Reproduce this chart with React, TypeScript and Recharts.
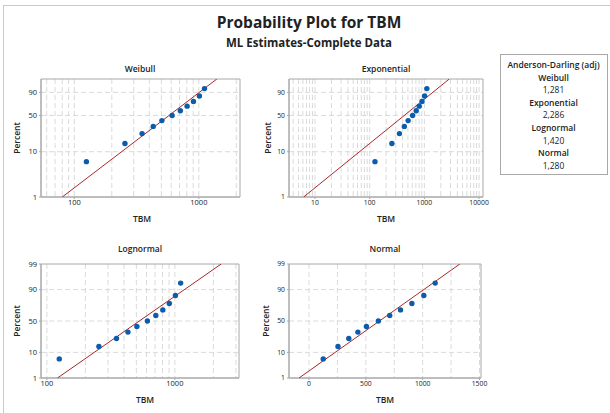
import { CartesianGrid, ReferenceArea, Scatter, ScatterChart, XAxis, YAxis } from "recharts";

// TBM observations and their plotting positions (percent)
const tbm = [125, 255, 350, 430, 505, 610, 710, 805, 905, 1010, 1110];
const percent = [6.1, 14.9, 23.7, 32.5, 41.2, 50.0, 58.8, 67.5, 76.3, 85.1, 93.9];

// fitted lines, read at 1% and 99%
const fitPercent = [1, 99];
const weibullFitTbm = [80, 1394];
const exponentialFitTbm = [6.2, 2850];
const lognormalFitTbm = [121, 2300];
const normalFitTbm = [-88, 1327];

const adLabels = ["Weibull", "Exponential", "Lognormal", "Normal"];
const adValues = ["1,281", "2,286", "1,420", "1,280"];

const yLabelsWeibull = [1, 10, 50, 90];
const yLabelsNormal = [1, 10, 50, 90, 99];
const yGridPercent = [10, 50, 90];

const weibullXLabels = [100, 1000];
const weibullXGrid = [60, 70, 80, 90, 100, 200, 300, 400, 500, 600, 700, 800, 900, 1000, 2000];
const expXLabels = [10, 100, 1000, 10000];
const expXGrid = [4, 5, 6, 7, 8, 9, 10, 20, 30, 40, 50, 60, 70, 80, 90, 100, 200, 300, 400, 500, 600, 700, 800, 900,
  1000, 2000, 3000, 4000, 5000, 6000, 7000, 8000, 9000, 10000];
const lognormalXLabels = [100, 1000];
const lognormalXGrid = [100, 200, 300, 400, 500, 600, 700, 800, 900, 1000, 2000, 3000];
const normalXLabels = [0, 500, 1000, 1500];
const normalXGrid = [0, 250, 500, 750, 1000, 1250, 1500];

const FONT = '"Open Sans", "Noto Sans", sans-serif';
const fitColor = "#a8282c";
const pointColor = "#0b5cab";
const frameColor = "#a8a8a8";
const gridColor = "#dadada";

// probability scales
const weibullTf = (p: number) => Math.log(-Math.log(1 - p / 100));

function normInv(p: number) {
  const a = [-39.69683028665376, 220.9460984245205, -275.9285104469687, 138.357751867269, -30.66479806614716, 2.506628277459239];
  const b = [-54.47609879822406, 161.5858368580409, -155.6989798598866, 66.80131188771972, -13.28068155288572];
  const c = [-0.007784894002430293, -0.3223964580411365, -2.400758277161838, -2.549671010060149, 4.374664141464968, 2.938163982698783];
  const d = [0.007784695709041462, 0.3224671290700398, 2.445134137142996, 3.754408661907416];
  const lo = 0.02425;
  if (p < lo) {
    const q = Math.sqrt(-2 * Math.log(p));
    return (((((c[0] * q + c[1]) * q + c[2]) * q + c[3]) * q + c[4]) * q + c[5]) / ((((d[0] * q + d[1]) * q + d[2]) * q + d[3]) * q + 1);
  }
  if (p > 1 - lo) {
    const q = Math.sqrt(-2 * Math.log(1 - p));
    return -(((((c[0] * q + c[1]) * q + c[2]) * q + c[3]) * q + c[4]) * q + c[5]) / ((((d[0] * q + d[1]) * q + d[2]) * q + d[3]) * q + 1);
  }
  const q = p - 0.5;
  const r = q * q;
  return ((((((a[0] * r + a[1]) * r + a[2]) * r + a[3]) * r + a[4]) * r + a[5]) * q) / (((((b[0] * r + b[1]) * r + b[2]) * r + b[3]) * r + b[4]) * r + 1);
}
const normalTf = (p: number) => normInv(p / 100);

type Panel = {
  name: string;
  left: number; top: number; width: number; height: number;
  yAxisWidth: number; marginRight: number; marginTop: number; xAxisHeight: number;
  xScale: "log" | "linear";
  xDomain: [number, number];
  xLabels: number[];
  xGrid: number[];
  yTf: (p: number) => number;
  yLabels: number[];
  fitTbm: number[];
  fontSize: number;
};

const panels: Panel[] = [
  {
    name: "Weibull", left: 0, top: 55, width: 246, height: 170,
    yAxisWidth: 41, marginRight: 6, marginTop: 24, xAxisHeight: 28,
    xScale: "log", xDomain: [54, 2140], xLabels: weibullXLabels, xGrid: weibullXGrid,
    yTf: weibullTf, yLabels: yLabelsWeibull, fitTbm: weibullFitTbm, fontSize: 7.5,
  },
  {
    name: "Exponential", left: 250, top: 55, width: 240, height: 170,
    yAxisWidth: 39, marginRight: 7, marginTop: 24, xAxisHeight: 28,
    xScale: "log", xDomain: [3.35, 11800], xLabels: expXLabels, xGrid: expXGrid,
    yTf: weibullTf, yLabels: yLabelsWeibull, fitTbm: exponentialFitTbm, fontSize: 6.8,
  },
  {
    name: "Lognormal", left: 0, top: 240, width: 246, height: 160,
    yAxisWidth: 41, marginRight: 7, marginTop: 24, xAxisHeight: 22,
    xScale: "log", xDomain: [90, 3170], xLabels: lognormalXLabels, xGrid: lognormalXGrid,
    yTf: normalTf, yLabels: yLabelsNormal, fitTbm: lognormalFitTbm, fontSize: 7.5,
  },
  {
    name: "Normal", left: 250, top: 240, width: 240, height: 160,
    yAxisWidth: 39, marginRight: 9, marginTop: 24, xAxisHeight: 22,
    xScale: "linear", xDomain: [-176, 1513], xLabels: normalXLabels, xGrid: normalXGrid,
    yTf: normalTf, yLabels: yLabelsNormal, fitTbm: normalFitTbm, fontSize: 6.8,
  },
];

const Dot = (props: any) => <circle cx={props.cx} cy={props.cy} r={2.7} fill={pointColor} />;
const NoDot = () => <g />;

function PlotPanel({ p }: { p: Panel }) {
  const pts = tbm.map((x, i) => ({ x, y: p.yTf(percent[i]) }));
  const fit = p.fitTbm.map((x, i) => ({ x, y: p.yTf(fitPercent[i]) }));
  const yDomain: [number, number] = [p.yTf(1), p.yTf(99)];
  const yTicks = p.yLabels.map(p.yTf);
  const yLabel = (v: number) => {
    const hit = p.yLabels.find(l => Math.abs(p.yTf(l) - v) < 1e-6);
    return hit === undefined ? "" : String(hit);
  };
  const tickStyle = { fontSize: p.fontSize, fill: "#222", fontFamily: FONT };

  return (
    <div style={{ position: "absolute", left: p.left, top: p.top }}>
      <ScatterChart width={p.width} height={p.height} margin={{ top: p.marginTop, right: p.marginRight, bottom: 0, left: 0 }}>
        <CartesianGrid
          stroke={gridColor}
          strokeDasharray="5 3"
          verticalValues={p.xGrid}
          horizontalValues={yGridPercent.map(p.yTf)}
        />
        <XAxis
          type="number"
          dataKey="x"
          scale={p.xScale}
          domain={p.xDomain}
          allowDataOverflow
          ticks={p.xLabels}
          interval={0}
          height={p.xAxisHeight}
          tickSize={2}
          tickMargin={1}
          stroke={frameColor}
          tick={tickStyle}
        />
        <YAxis
          type="number"
          dataKey="y"
          domain={yDomain}
          allowDataOverflow
          ticks={yTicks}
          interval={0}
          width={p.yAxisWidth}
          tickSize={2}
          tickMargin={2}
          stroke={frameColor}
          tick={tickStyle}
          tickFormatter={yLabel}
        />
        <ReferenceArea x1={p.xDomain[0]} x2={p.xDomain[1]} y1={yDomain[0]} y2={yDomain[1]} fill="none" stroke={frameColor} fillOpacity={0} />
        <Scatter data={fit} line={{ stroke: fitColor, strokeWidth: 1 }} shape={NoDot} isAnimationActive={false} />
        <Scatter data={pts} shape={Dot} fill={pointColor} isAnimationActive={false} />
      </ScatterChart>
    </div>
  );
}

// label positions for the panel text
const panelTitlePos = [[140, 72], [386, 72], [140, 252], [385, 252]];
const percentPos = [[20, 138], [271, 138], [20, 321], [269, 321]];
const tbmPos = [[142, 221.5], [386, 221.5], [145, 403], [385, 403]];

export default function App() {
  const lbl = { fontFamily: FONT, fontSize: 8.5, fontWeight: 600, fill: "#222" } as const;
  return (
    <div style={{ position: "absolute", left: 0, top: 0, width: 610, height: 413, background: "#fff" }}>
      <svg width={610} height={413} style={{ position: "absolute", left: 0, top: 0 }}>
        <line x1={3} y1={5.5} x2={610} y2={5.5} stroke="#cacaca" />
        <line x1={3.5} y1={5} x2={3.5} y2={413} stroke="#cacaca" />
        <text x={309} y={28.3} textAnchor="middle" fontFamily={FONT} fontSize={15.5} fontWeight={700} fill="#222">
          Probability Plot for TBM
        </text>
        <text x={309} y={46.5} textAnchor="middle" fontFamily={FONT} fontSize={11.5} fontWeight={700} fill="#222">
          ML Estimates-Complete Data
        </text>
        {panels.map((p, i) => (
          <g key={p.name}>
            <text x={panelTitlePos[i][0]} y={panelTitlePos[i][1]} textAnchor="middle" {...lbl}>{p.name}</text>
            <text
              x={percentPos[i][0]}
              y={percentPos[i][1]}
              textAnchor="middle"
              transform={`rotate(-90 ${percentPos[i][0]} ${percentPos[i][1]})`}
              {...lbl}
            >
              Percent
            </text>
            <text x={tbmPos[i][0]} y={tbmPos[i][1]} textAnchor="middle" {...lbl}>TBM</text>
          </g>
        ))}
        <rect x={500.5} y={54.5} width={107} height={120} fill="none" stroke={frameColor} />
        <text x={553.5} y={68} textAnchor="middle" {...lbl}>Anderson-Darling (adj)</text>
        {adLabels.map((name, i) => (
          <g key={name}>
            <text x={553.5} y={80.6 + i * 25.2} textAnchor="middle" {...lbl}>{name}</text>
            <text x={553.5} y={93.2 + i * 25.2} textAnchor="middle" {...lbl} fontWeight={400}>{adValues[i]}</text>
          </g>
        ))}
      </svg>
      {panels.map(p => <PlotPanel key={p.name} p={p} />)}
    </div>
  );
}
